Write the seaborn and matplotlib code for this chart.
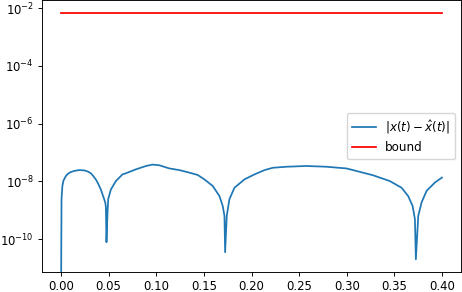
import numpy as np
import matplotlib
matplotlib.use("Agg")
import matplotlib.pyplot as plt
from matplotlib.ticker import NullLocator
import seaborn as sns

# error curve
t_err = [0.0, 0.0005, 0.0014, 0.0025, 0.0049, 0.007, 0.0102, 0.014, 0.0189,
         0.0242, 0.028, 0.0313, 0.034, 0.0365, 0.039, 0.0418, 0.0453, 0.0465,
         0.0471, 0.0477, 0.0488, 0.0495, 0.0523, 0.0576, 0.0645, 0.0681,
         0.0786, 0.0892, 0.0961, 0.1032, 0.1137, 0.1242, 0.1347, 0.1435, 0.1505,
         0.1593, 0.1663, 0.1698, 0.1716, 0.1723, 0.1740, 0.1768, 0.1821, 0.1926,
         0.2032, 0.2137, 0.2224, 0.2365, 0.2576, 0.2786, 0.2997, 0.3066, 0.3277,
         0.3453, 0.3576, 0.3645, 0.3692, 0.3716, 0.3726, 0.3751, 0.3786, 0.3839,
         0.3926, 0.4]
err = [1e-12, 2.4e-9, 6.9e-9, 1.05e-8, 1.5e-8, 1.8e-8, 2.1e-8, 2.3e-8, 2.45e-8,
       2.4e-8, 2.2e-8, 1.9e-8, 1.5e-8, 1.17e-8, 8.3e-9, 5.2e-9, 2.4e-9, 1.8e-9,
       1.26e-9, 7.8e-11, 7.9e-10, 2.4e-9, 5.2e-9, 1.02e-8, 1.74e-8, 1.9e-8,
       2.6e-8, 3.4e-8, 3.8e-8, 3.6e-8, 2.8e-8, 2.45e-8, 2.0e-8, 1.66e-8, 1.17e-8,
       6.9e-9, 3.1e-9, 1.4e-9, 6.3e-10, 3.5e-11, 6.3e-10, 2.4e-9, 6.0e-9, 1.17e-8,
       1.74e-8, 2.45e-8, 2.95e-8, 3.2e-8, 3.4e-8, 3.2e-8, 2.8e-8, 2.45e-8, 1.62e-8,
       1.02e-8, 6.0e-9, 3.1e-9, 1.4e-9, 4.9e-10, 2.0e-11, 6.3e-10, 1.86e-9, 4.7e-9,
       9.1e-9, 1.35e-8]

t_bound = [0.0, 0.4]
bound = [7e-3, 7e-3]

ERR_LABEL = r"$|x(t) - \hat{x}(t)|$"
BOUND_LABEL = "bound"
X_TICKS = [0.0, 0.05, 0.10, 0.15, 0.20, 0.25, 0.30, 0.35, 0.40]
X_TICKLABELS = ["0.00", "0.05", "0.10", "0.15", "0.20", "0.25", "0.30", "0.35", "0.40"]
Y_TICKS = [1e-10, 1e-8, 1e-6, 1e-4, 1e-2]

plt.rcParams.update({"font.family": "DejaVu Sans", "font.size": 8.4,
                     "xtick.major.size": 2.9, "ytick.major.size": 2.9,
                     "xtick.major.width": 0.67, "ytick.major.width": 0.67,
                     "xtick.major.pad": 2.6, "ytick.major.pad": 2.9,
                     "axes.linewidth": 0.67})

fig = plt.figure(figsize=(4.62, 2.92), dpi=100)
ax = fig.add_axes([42 / 462, 20 / 292, 419 / 462, 272 / 292])

sns.lineplot(x=t_err, y=err, ax=ax, color="#1f77b4", lw=1.26,
             label=ERR_LABEL, estimator=None, sort=False)
sns.lineplot(x=t_bound, y=bound, ax=ax, color="red", lw=1.26,
             label=BOUND_LABEL, estimator=None, sort=False)

ax.set_yscale("log")
ax.set_xlim(-0.02, 0.42)
ax.set_ylim(10 ** -11.14, 10 ** -1.72)
ax.set_xticks(X_TICKS)
ax.set_xticklabels(X_TICKLABELS)
ax.set_yticks(Y_TICKS)
ax.yaxis.set_minor_locator(NullLocator())
ax.legend(loc="center right", fontsize=8.6)

fig.savefig("out.png", dpi=100)
